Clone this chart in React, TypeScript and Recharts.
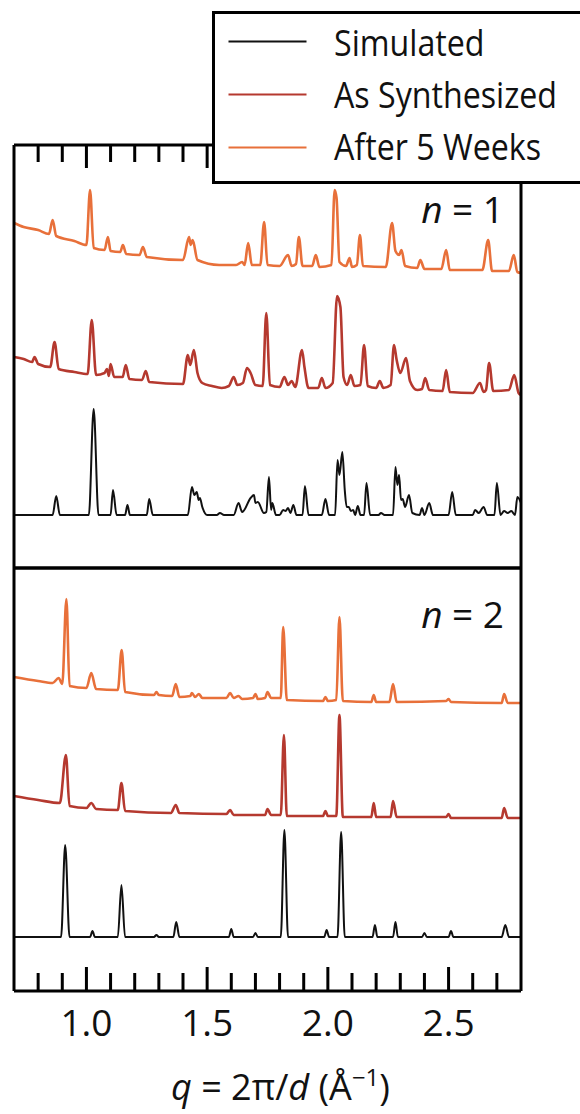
import { LineChart, Line, XAxis, YAxis, Legend } from "recharts";

// q = 2π/d axis (Å^-1)
const qDomain: [number, number] = [0.7, 2.8];
const tickValues = [0.8, 0.9, 1.0, 1.1, 1.2, 1.3, 1.4, 1.5, 1.6, 1.7, 1.8, 1.9, 2.0, 2.1, 2.2, 2.3, 2.4, 2.5, 2.6, 2.7];
const majorTicks = [1.0, 1.5, 2.0, 2.5];
const tickLabels = ["1.0", "1.5", "2.0", "2.5"];

const seriesNames = ["Simulated", "As Synthesized", "After 5 Weeks"];
const seriesColors = ["#111111", "#b5392f", "#e8703a"];

// vertical stacking offsets (a.u.) of each pattern, panel height = 423
const topOffsets = [53, 173, 295];
const bottomOffsets = [54, 173, 288];

// n = 1 : [q, intensity]
const topSimulated: [number, number][] = [
  [0.7, 0], [0.86, 0], [0.875, 19], [0.89, 0], [1.01, 0], [1.03, 106], [1.05, 0], [1.1, 0], [1.11, 25], [1.125, 0],
  [1.16, 0], [1.17, 10], [1.18, 0], [1.25, 0], [1.26, 16], [1.275, 0], [1.42, 0], [1.437, 28], [1.447, 20], [1.457, 23],
  [1.465, 15], [1.47, 17], [1.48, 8], [1.5, 0], [1.54, 0], [1.553, 2], [1.57, 0], [1.61, 0], [1.63, 12], [1.645, 3],
  [1.68, 17], [1.694, 20], [1.7, 12], [1.71, 13], [1.735, 2], [1.745, 3], [1.756, 38], [1.765, 5], [1.77, 12], [1.785, 0],
  [1.8, 0], [1.815, 5], [1.825, 4], [1.835, 7], [1.845, 2], [1.857, 10], [1.87, 0], [1.895, 0], [1.905, 29], [1.92, 0],
  [1.975, 0], [1.99, 16], [2.005, 0], [2.03, 0], [2.04, 55], [2.048, 40], [2.06, 63], [2.07, 25], [2.078, 8], [2.087, 8],
  [2.095, 4], [2.105, 5], [2.113, 0], [2.124, 9], [2.135, 0], [2.15, 0], [2.16, 32], [2.175, 0], [2.21, 0], [2.22, 2],
  [2.235, 0], [2.27, 0], [2.28, 48], [2.288, 30], [2.295, 40], [2.303, 15], [2.31, 16], [2.32, 8], [2.336, 20], [2.35, 2],
  [2.38, 0], [2.39, 7], [2.4, 0], [2.42, 12], [2.435, 0], [2.5, 0], [2.515, 23], [2.53, 0], [2.6, 0], [2.61, 5],
  [2.625, 2], [2.645, 8], [2.66, 0], [2.69, 0], [2.7, 32], [2.715, 0], [2.73, 4], [2.745, 2], [2.76, 4], [2.775, 0],
  [2.785, 18], [2.8, 12],
];
const topSynthesized: [number, number][] = [
  [0.7, 38], [0.74, 36], [0.775, 33], [0.785, 38], [0.8, 31], [0.85, 28], [0.868, 53], [0.885, 26], [0.95, 23], [1.005, 21],
  [1.022, 75], [1.04, 20], [1.075, 22], [1.085, 26], [1.093, 19], [1.1, 31], [1.115, 18], [1.15, 18], [1.163, 30], [1.178, 16],
  [1.23, 15], [1.246, 24], [1.26, 13], [1.4, 11], [1.42, 40], [1.43, 30], [1.445, 45], [1.46, 22], [1.48, 12], [1.52, 9],
  [1.56, 7], [1.59, 9], [1.61, 18], [1.625, 10], [1.648, 12], [1.665, 27], [1.68, 22], [1.7, 10], [1.73, 9], [1.745, 82],
  [1.76, 10], [1.8, 8], [1.82, 18], [1.835, 10], [1.85, 14], [1.865, 8], [1.893, 45], [1.903, 28], [1.92, 7], [1.96, 7],
  [1.975, 17], [1.99, 7], [2.02, 12], [2.038, 99], [2.052, 88], [2.065, 18], [2.08, 10], [2.095, 20], [2.11, 9], [2.135, 10],
  [2.15, 50], [2.165, 9], [2.2, 7], [2.215, 14], [2.23, 7], [2.26, 10], [2.274, 50], [2.285, 35], [2.3, 22], [2.324, 37],
  [2.34, 14], [2.37, 5], [2.39, 6], [2.403, 17], [2.42, 5], [2.475, 4], [2.49, 25], [2.505, 3], [2.6, 2], [2.63, 12],
  [2.645, 3], [2.655, 5], [2.668, 32], [2.685, 4], [2.75, 5], [2.772, 20], [2.79, 2], [2.8, 0],
];
const topWeeks: [number, number][] = [
  [0.7, 50], [0.74, 46], [0.8, 43], [0.845, 39], [0.86, 53], [0.875, 37], [0.95, 32], [1.0, 28], [1.015, 83], [1.03, 25],
  [1.075, 23], [1.089, 36], [1.1, 22], [1.14, 21], [1.151, 28], [1.165, 19], [1.22, 18], [1.234, 26], [1.25, 16], [1.4, 13],
  [1.425, 36], [1.432, 28], [1.44, 33], [1.46, 13], [1.55, 8], [1.62, 8], [1.645, 11], [1.655, 8], [1.67, 30], [1.685, 8],
  [1.72, 8], [1.736, 51], [1.75, 8], [1.8, 7], [1.835, 18], [1.85, 7], [1.868, 9], [1.88, 36], [1.895, 7], [1.935, 7],
  [1.95, 18], [1.965, 6], [2.015, 8], [2.028, 83], [2.036, 75], [2.048, 11], [2.075, 7], [2.09, 15], [2.1, 6], [2.12, 8],
  [2.133, 38], [2.145, 7], [2.24, 6], [2.266, 50], [2.28, 22], [2.295, 18], [2.305, 23], [2.32, 7], [2.37, 5], [2.383, 13],
  [2.4, 4], [2.47, 4], [2.49, 23], [2.505, 3], [2.64, 3], [2.664, 33], [2.68, 2], [2.75, 2], [2.77, 18], [2.785, 1],
  [2.8, 0],
];

// n = 2 : [q, intensity]
const bottomSimulated: [number, number][] = [
  [0.7, 0], [0.895, 0], [0.912, 92], [0.93, 0], [1.015, 0], [1.025, 6], [1.035, 0], [1.13, 0], [1.145, 52], [1.16, 0],
  [1.28, 0], [1.29, 2], [1.3, 0], [1.36, 0], [1.372, 15], [1.385, 0], [1.59, 0], [1.6, 8], [1.61, 0], [1.69, 0],
  [1.7, 4], [1.71, 0], [1.805, 0], [1.82, 107], [1.835, 0], [1.985, 0], [1.995, 7], [2.005, 0], [2.04, 0], [2.055, 105],
  [2.07, 0], [2.185, 0], [2.195, 12], [2.205, 0], [2.27, 0], [2.28, 15], [2.29, 0], [2.39, 0], [2.4, 4], [2.41, 0],
  [2.5, 0], [2.51, 6], [2.52, 0], [2.72, 0], [2.735, 12], [2.75, 0], [2.8, 0],
];
const bottomSynthesized: [number, number][] = [
  [0.7, 22], [0.8, 18], [0.89, 15], [0.915, 63], [0.93, 12], [1.0, 10], [1.02, 15], [1.04, 9], [1.13, 8], [1.145, 35],
  [1.16, 7], [1.35, 5], [1.37, 13], [1.385, 5], [1.58, 4], [1.595, 8], [1.61, 3], [1.74, 3], [1.75, 9], [1.765, 3],
  [1.805, 3], [1.818, 83], [1.83, 2], [1.98, 2], [1.99, 7], [2.0, 2], [2.035, 2], [2.048, 103], [2.062, 1], [2.18, 1],
  [2.19, 15], [2.2, 1], [2.26, 1], [2.27, 17], [2.285, 1], [2.49, 1], [2.5, 4], [2.51, 0], [2.72, 0], [2.73, 10],
  [2.745, 0], [2.8, 0],
];
const bottomWeeks: [number, number][] = [
  [0.7, 26], [0.8, 22], [0.86, 20], [0.885, 25], [0.9, 19], [0.917, 104], [0.93, 17], [1.0, 15], [1.02, 30], [1.04, 14],
  [1.13, 13], [1.146, 53], [1.16, 11], [1.28, 8], [1.29, 11], [1.3, 8], [1.355, 7], [1.37, 19], [1.385, 6], [1.43, 7],
  [1.437, 10], [1.45, 6], [1.466, 9], [1.48, 5], [1.58, 5], [1.595, 10], [1.61, 5], [1.63, 7], [1.645, 4], [1.69, 5],
  [1.7, 9], [1.71, 4], [1.74, 5], [1.75, 11], [1.765, 5], [1.805, 5], [1.815, 76], [1.83, 3], [1.98, 2], [1.99, 6],
  [2.0, 2], [2.035, 3], [2.048, 86], [2.062, 2], [2.18, 1], [2.19, 8], [2.2, 1], [2.255, 1], [2.27, 19], [2.285, 1],
  [2.49, 2], [2.5, 4], [2.51, 1], [2.72, 0], [2.73, 9], [2.745, 0], [2.8, 0],
];

const topSeries = [topSimulated, topSynthesized, topWeeks];
const bottomSeries = [bottomSimulated, bottomSynthesized, bottomWeeks];

const FONT = "'Open Sans', 'DejaVu Sans', sans-serif";
const PANEL_H = 423;

const toRows = (pts: [number, number][], offset: number) => pts.map(([q, v]) => ({ q, y: v + offset }));

// inward tick marks, longer on the major values; optional labels under the bottom edge
const makeTick = (dir: number, minorLen: number, majorLen: number, withLabels = false) => (props: any) => {
  const { x, y, payload } = props;
  const mi = majorTicks.indexOf(payload.value);
  const len = mi >= 0 ? majorLen : minorLen;
  return (
    <g>
      <line x1={x} x2={x} y1={y} y2={y + dir * len} stroke="#000" strokeWidth={3} />
      {withLabels && mi >= 0 && (
        <text x={x} y={y + 45} textAnchor="middle" fontFamily={FONT} fontSize={37} fill="#111">
          {tickLabels[mi]}
        </text>
      )}
    </g>
  );
};

const nLabel = (n: string, dy: number) => (props: any) => {
  const vb = props.viewBox || {};
  const right = (vb.x || 0) + (vb.width || 0);
  return (
    <text x={right - 17} y={(vb.y || 0) + dy} textAnchor="end" fontFamily={FONT} fontSize={37} fill="#111">
      <tspan fontStyle="italic">n</tspan>
      <tspan> = {n}</tspan>
    </text>
  );
};

const axisTitle = (props: any) => {
  const vb = props.viewBox || {};
  const cx = vb.x + vb.width / 2 + 13;
  const by = vb.y + 109;
  return (
    <text x={cx} y={by} textAnchor="middle" fontFamily={FONT} fontSize={36} fill="#111">
      <tspan fontStyle="italic">q</tspan>
      <tspan> = 2π/</tspan>
      <tspan fontStyle="italic">d</tspan>
      <tspan> (Å</tspan>
      <tspan dy={-14} fontSize={24}>−1</tspan>
      <tspan dy={14}>)</tspan>
    </text>
  );
};

function LegendBox({ payload }: any) {
  const items = [...((payload || []) as any[])].sort(
    (a, b) => seriesNames.indexOf(a.value) - seriesNames.indexOf(b.value)
  );
  return (
    <svg width={368} height={176} style={{ display: "block" }}>
      <rect x={1.5} y={1.5} width={400} height={170} fill="#fff" stroke="#000" strokeWidth={3} />
      {items.map((p, i) => (
        <g key={p.value}>
          <line x1={16.5} x2={94.5} y1={30.5 + i * 53} y2={30.5 + i * 53} stroke={p.color} strokeWidth={2} />
          <g transform={`translate(122, ${44.5 + i * 52}) scale(0.87, 1)`}>
            <text x={0} y={0} fontFamily={FONT} fontSize={37} fill="#111">
              {p.value}
            </text>
          </g>
        </g>
      ))}
    </svg>
  );
}

export default function App() {
  const lines = (series: [number, number][][], offsets: number[]) =>
    series.map((pts, i) => (
      <Line
        key={seriesNames[i]}
        data={toRows(pts, offsets[i])}
        dataKey="y"
        name={seriesNames[i]}
        xAxisId="q"
        yAxisId="l"
        type="monotoneX"
        stroke={seriesColors[i]}
        strokeWidth={i === 0 ? 2 : 2.6}
        strokeLinejoin="round"
        dot={false}
        activeDot={false}
        isAnimationActive={false}
      />
    ));

  const frame = { stroke: "#000", strokeWidth: 3 };

  return (
    <div style={{ position: "absolute", left: 0, top: 0, width: 580, height: 1114, overflow: "hidden", background: "#fff" }}>
      {/* n = 2 panel with the q axis */}
      <div style={{ position: "absolute", left: 0, top: 560 }}>
        <LineChart width={580} height={554} margin={{ top: 8, right: 59, bottom: 0, left: 14 }}>
          <XAxis
            xAxisId="q"
            dataKey="q"
            type="number"
            domain={qDomain}
            ticks={tickValues}
            interval={0}
            orientation="bottom"
            height={123}
            tickSize={0}
            tickMargin={0}
            tickLine={false}
            axisLine={frame}
            tick={makeTick(-1, 18, 24, true)}
            label={axisTitle}
          />
          <XAxis
            xAxisId="mid"
            dataKey="q"
            type="number"
            domain={qDomain}
            ticks={tickValues}
            interval={0}
            orientation="top"
            mirror
            tickSize={0}
            tickMargin={0}
            tickLine={false}
            axisLine={frame}
            tick={makeTick(1, 15.5, 22.5)}
          />
          <YAxis yAxisId="l" type="number" domain={[0, PANEL_H]} orientation="left" mirror tick={false} tickLine={false} axisLine={frame} />
          <YAxis
            yAxisId="r"
            type="number"
            domain={[0, PANEL_H]}
            orientation="right"
            mirror
            tick={false}
            tickLine={false}
            axisLine={frame}
            label={nLabel("2", 60)}
          />
          {lines(bottomSeries, bottomOffsets)}
        </LineChart>
      </div>
      {/* n = 1 panel with the legend */}
      <div style={{ position: "absolute", left: 0, top: 0 }}>
        <LineChart width={580} height={575} margin={{ top: 145, right: 59, bottom: 7, left: 14 }}>
          <XAxis
            xAxisId="q"
            dataKey="q"
            type="number"
            domain={qDomain}
            ticks={tickValues}
            interval={0}
            orientation="top"
            mirror
            tickSize={0}
            tickMargin={0}
            tickLine={false}
            axisLine={frame}
            tick={makeTick(1, 17, 23)}
          />
          <XAxis
            xAxisId="mid"
            dataKey="q"
            type="number"
            domain={qDomain}
            ticks={tickValues}
            interval={0}
            orientation="bottom"
            mirror
            tickSize={0}
            tickMargin={0}
            tickLine={false}
            axisLine={frame}
            tick={makeTick(-1, 15.5, 22.5)}
          />
          <YAxis yAxisId="l" type="number" domain={[0, PANEL_H]} orientation="left" mirror tick={false} tickLine={false} axisLine={frame} />
          <YAxis
            yAxisId="r"
            type="number"
            domain={[0, PANEL_H]}
            orientation="right"
            mirror
            tick={false}
            tickLine={false}
            axisLine={frame}
            label={nLabel("1", 78)}
          />
          {lines(topSeries, topOffsets)}
          <Legend
            layout="horizontal"
            verticalAlign="middle"
            align="center"
            content={<LegendBox />}
            wrapperStyle={{ position: "absolute", left: 211.5, top: 10.5, width: 368, height: 176 }}
          />
        </LineChart>
      </div>
    </div>
  );
}
